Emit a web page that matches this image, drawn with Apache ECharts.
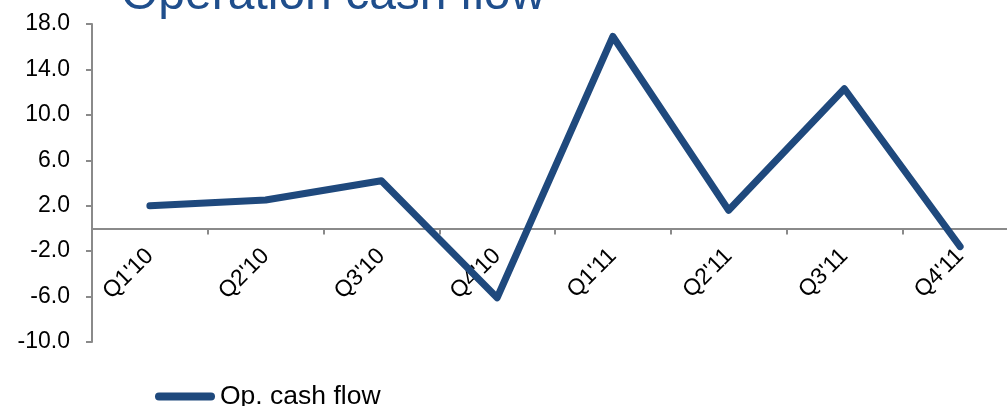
<!DOCTYPE html>
<html>
<head>
<meta charset="utf-8">
<title>Operation cash flow</title>
<script src="https://cdn.jsdelivr.net/npm/echarts@6/dist/echarts.min.js"></script>
<style>
  html, body { margin: 0; padding: 0; background: #ffffff; }
  #chart { width: 1007px; height: 406px; }
</style>
</head>
<body>
<div id="chart"></div>
<script>
// Quarterly operating cash flow
const quarters = ["Q1'10", "Q2'10", "Q3'10", "Q4'10", "Q1'11", "Q2'11", "Q3'11", "Q4'11"];
const opCashFlow = [2.0, 2.5, 4.2, -6.1, 16.9, 1.6, 12.3, -1.6];
const seriesName = 'Op. cash flow';
const titleText = 'Operation cash flow';
const yMin = -10;
const yMax = 18;
const yStep = 4;

const FONT = '"Liberation Sans", Arial, sans-serif';
const LINE_COLOR = '#1F497D';
const AXIS_COLOR = '#8a8a8a';

const GRID = { left: 92, right: -11, top: 24, bottom: 64 };
const H = 406;
const plotHeight = H - GRID.top - GRID.bottom;
// lift the category axis (line, ticks and labels) up to the zero level
const zeroOffset = -plotHeight * (0 - yMin) / (yMax - yMin);

const chart = echarts.init(document.getElementById('chart'), null, { renderer: 'canvas' });

chart.setOption({
  backgroundColor: '#ffffff',
  animation: false,
  title: {
    text: titleText,
    left: 121,
    top: -28,
    padding: 0,
    textStyle: {
      fontFamily: FONT,
      fontSize: 48,
      fontWeight: 'normal',
      color: '#1F4E8C'
    }
  },
  legend: {
    data: [seriesName],
    left: 155,
    top: 383,
    padding: 0,
    itemWidth: 60,
    itemHeight: 8,
    icon: 'path://M4,0 H56 A4,4 0 0 1 56,8 H4 A4,4 0 0 1 4,0 Z',
    itemStyle: { color: LINE_COLOR },
    textStyle: {
      fontFamily: FONT,
      fontSize: 26.5,
      color: '#000000'
    }
  },
  grid: Object.assign({ containLabel: false, outerBoundsMode: 'none' }, GRID),
  xAxis: {
    type: 'category',
    data: quarters,
    boundaryGap: true,
    position: 'bottom',
    offset: zeroOffset,
    axisLine: { show: true, onZero: false, lineStyle: { color: AXIS_COLOR, width: 2 } },
    axisTick: { show: true, length: 6, lineStyle: { color: AXIS_COLOR, width: 2 } },
    axisLabel: {
      rotate: 45,
      margin: 24,
      fontFamily: FONT,
      fontSize: 23,
      color: '#000000'
    },
    splitLine: { show: false }
  },
  yAxis: {
    type: 'value',
    min: yMin,
    max: yMax,
    interval: yStep,
    axisLine: { show: true, lineStyle: { color: AXIS_COLOR, width: 2 } },
    axisTick: { show: true, length: 6, lineStyle: { color: AXIS_COLOR, width: 2 } },
    axisLabel: {
      margin: 22,
      fontFamily: FONT,
      fontSize: 23,
      color: '#000000',
      formatter: v => v.toFixed(1)
    },
    splitLine: { show: false }
  },
  series: [{
    name: seriesName,
    type: 'line',
    data: opCashFlow,
    symbol: 'none',
    lineStyle: { color: LINE_COLOR, width: 7, cap: 'round', join: 'round' },
    itemStyle: { color: LINE_COLOR }
  }]
});
</script>
</body>
</html>
